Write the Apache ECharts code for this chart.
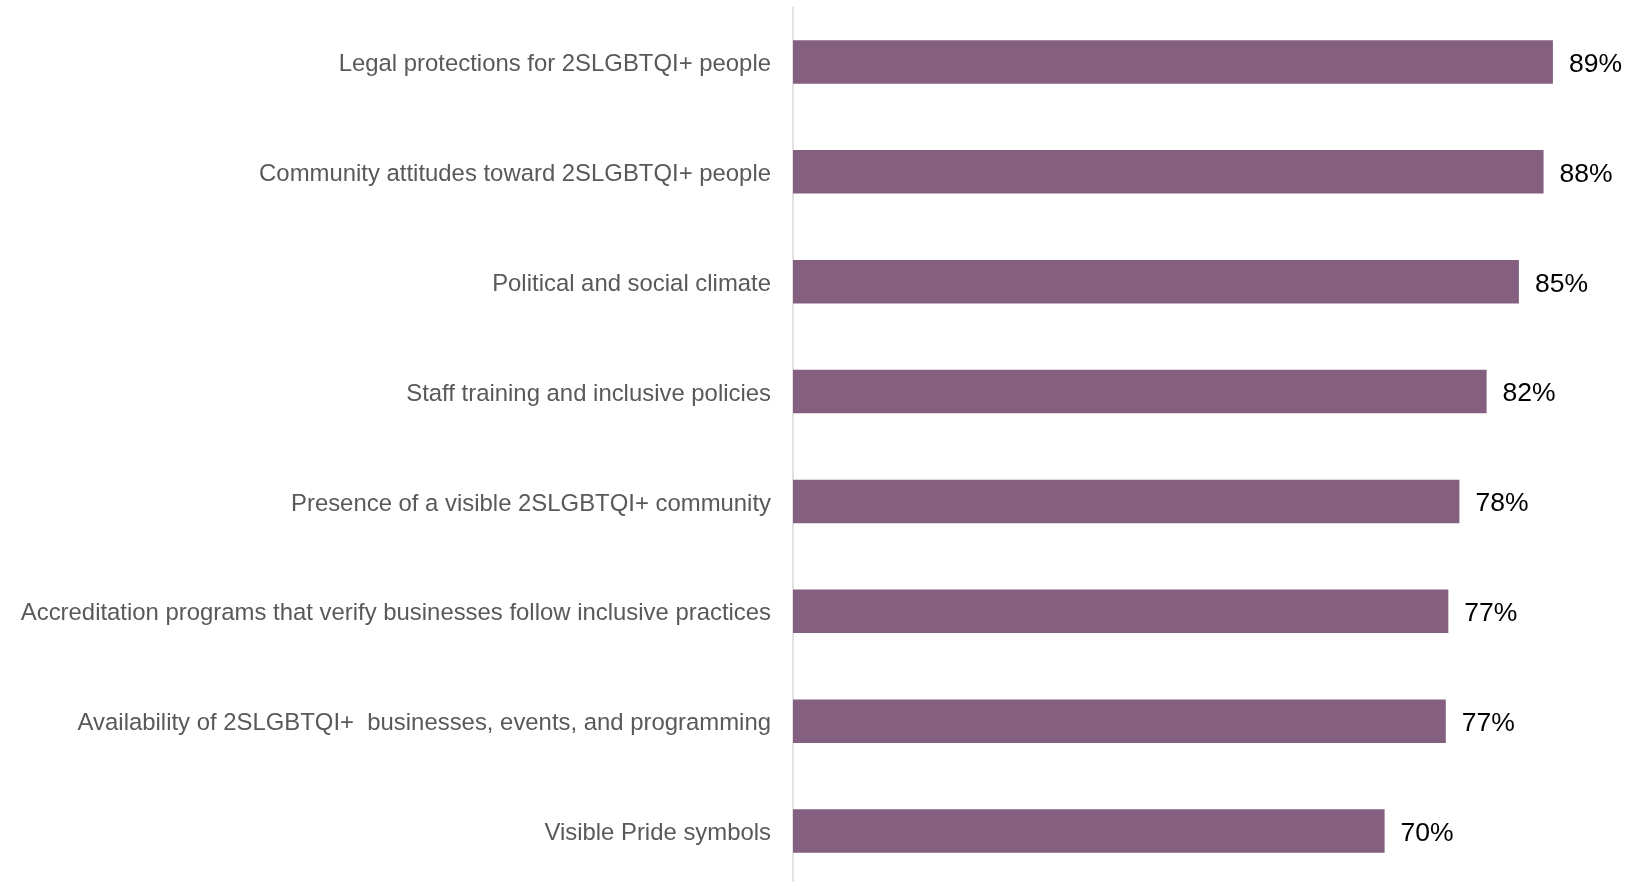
<!DOCTYPE html>
<html>
<head>
<meta charset="utf-8">
<script src="https://cdn.jsdelivr.net/npm/echarts@6/dist/echarts.min.js"></script>
<style>
html,body{margin:0;padding:0;background:#fff;overflow:hidden;}
#chart{width:1650px;height:890px;}
</style>
</head>
<body>
<div id="chart"></div>
<script>
const categories = [
  "Legal protections for 2SLGBTQI+ people",
  "Community attitudes toward 2SLGBTQI+ people",
  "Political and social climate",
  "Staff training and inclusive policies",
  "Presence of a visible 2SLGBTQI+ community",
  "Accreditation programs that verify businesses follow inclusive practices",
  "Availability of 2SLGBTQI+  businesses, events, and programming",
  "Visible Pride symbols"
];
const values = [89.4, 88.3, 85.4, 81.6, 78.4, 77.1, 76.8, 69.6];

const chart = echarts.init(document.getElementById('chart'), null, {renderer: 'canvas'});
chart.setOption({
  animation: false,
  grid: {left: 793, right: 7, top: 7, height: 879, containLabel: false},
  xAxis: {
    type: 'value', min: 0, max: 100,
    show: false
  },
  yAxis: {
    type: 'category',
    data: categories,
    inverse: true,
    axisLine: {show: true, lineStyle: {color: '#d9d9d9', width: 1.5}},
    axisTick: {show: false},
    splitLine: {show: false},
    axisLabel: {
      margin: 22,
      formatter: v => '{c|' + v + '}',
      rich: {
        c: {
          color: '#595959',
          fontFamily: 'Liberation Sans, Arial, sans-serif',
          fontSize: 23.9,
          padding: [5, 0, 0, 0]
        }
      }
    }
  },
  series: [{
    type: 'bar',
    data: values,
    barWidth: 43.5,
    itemStyle: {color: '#845F80'},
    label: {
      show: true,
      position: 'right',
      distance: 16,
      offset: [0, 2.5],
      color: '#000',
      fontFamily: 'Liberation Sans, Arial, sans-serif',
      fontSize: 26.5,
      formatter: p => Math.round(p.value) + '%'
    }
  }]
});
</script>
</body>
</html>
